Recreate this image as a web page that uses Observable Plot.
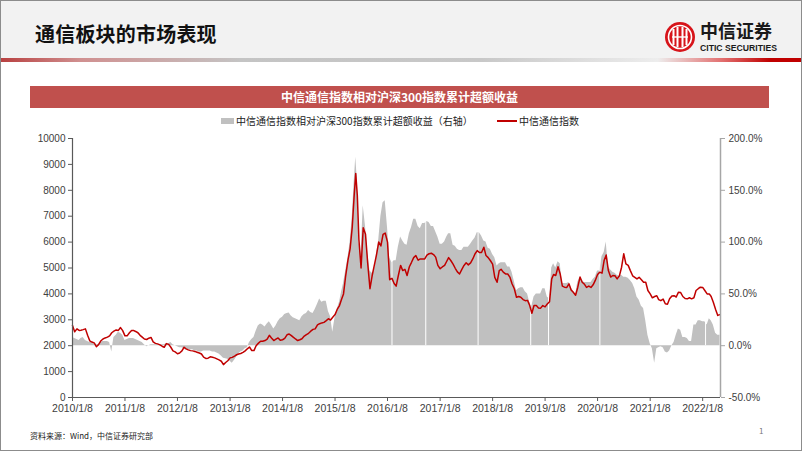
<!DOCTYPE html>
<html><head><meta charset="utf-8">
<script src="https://cdn.jsdelivr.net/npm/d3@7"></script>
<script src="https://cdn.jsdelivr.net/npm/@observablehq/plot@0.6"></script>
<style>
body{margin:0;background:#fff;}
#slide{position:relative;width:802px;height:451px;overflow:hidden;font-family:"Noto Sans CJK SC","Noto Sans",sans-serif;background:#fff;}
#border{position:absolute;left:0;top:0;width:802px;height:451px;box-sizing:border-box;border:1px solid #8c8c8c;pointer-events:none;z-index:5}
#header{position:absolute;left:0;top:0;width:802px;height:58px;background:#f2f2f2;}
#hline{position:absolute;left:0;top:58px;width:802px;height:4px;background:linear-gradient(to right,#b84040 0%,#d09090 10%,#c4c4c4 30%,#c8c8c8 60%,#ededed 82%,#e27070 90%,#c00000 96%,#c00000 100%);}
#title{position:absolute;left:35px;top:19px;font-size:20px;font-weight:bold;color:#111;line-height:30px;letter-spacing:0.2px}
#logo{position:absolute;left:662px;top:18px}
#banner{position:absolute;left:30px;top:86px;width:739px;height:22px;background:#c0504d;color:#fff;font-size:12px;font-weight:bold;text-align:center;line-height:22px}
.lg{position:absolute;top:113px;font-size:10px;color:#222;line-height:16px;white-space:nowrap}
#chart{position:absolute;left:0;top:0}
#foot{position:absolute;left:30px;top:430px;font-size:8px;color:#222}
#page{position:absolute;left:759px;top:425px;font-size:8px;color:#777}
</style></head>
<body>
<div id="slide">
  <div id="header"></div>
  <div id="hline"></div>
  <div id="title">通信板块的市场表现</div>
  <svg id="logo" width="120" height="40" viewBox="0 0 120 40">
    <circle cx="18" cy="19" r="15" fill="#d7141a"/>
    <circle cx="18" cy="19" r="11.5" fill="none" stroke="#fff" stroke-width="1.6"/>
    <rect x="10.5" y="11" width="2" height="16" fill="#fff"/>
    <rect x="14.5" y="9" width="2" height="20" fill="#fff"/>
    <rect x="19.5" y="9" width="2" height="20" fill="#fff"/>
    <rect x="23.5" y="11" width="2" height="16" fill="#fff"/>
    <path d="M10 19 H26" stroke="#fff" stroke-width="1.4"/>
    <text x="38" y="20" font-family="Noto Sans CJK SC" font-weight="bold" font-size="18" fill="#1a1a1a">中信证券</text>
    <text x="38" y="33" font-family="Liberation Sans Narrow, Liberation Sans, Arial" font-weight="bold" font-size="9" fill="#1a1a1a" textLength="77" lengthAdjust="spacingAndGlyphs">CITIC SECURITIES</text>
  </svg>
  <div id="banner">中信通信指数相对沪深300指数累计超额收益</div>
  <div class="lg" style="left:221px"><span style="display:inline-block;width:13px;height:6px;background:#c0c0c0;vertical-align:middle;margin-right:2px;position:relative;top:-1px"></span>中信通信指数相对沪深300指数累计超额收益（右轴）</div>
  <div class="lg" style="left:497px"><span style="display:inline-block;width:20px;height:2px;background:#c00000;vertical-align:middle;margin-right:2px;position:relative;top:-1px"></span>中信通信指数</div>
  <div id="chart"></div>
  <div id="foot">资料来源：Wind，中信证券研究部</div>
  <div id="page">1</div>
  <div id="border"></div>
</div>
<script>
// ---- data (roughly twice a month) ----
// 中信通信指数 (left axis), per year, sampled on the 8th and 23rd
const idx2010 = [2780,2540,2650,2590,2600,2620,2650,2400,2190,2140,2110,1960,2040,2180,2260,2300,2330,2380,2500,2560,2610,2590,2700,2580];
const idx2011 = [2380,2380,2500,2590,2590,2550,2500,2400,2330,2260,2240,2290,2320,2150,2090,2070,2030,1980,1940,2080,2050,1940,1800,1760];
const idx2012 = [1690,1720,1800,1940,1880,1840,1810,1800,1780,1750,1720,1680,1560,1510,1520,1570,1550,1530,1490,1450,1400,1270,1350,1420];
const idx2013 = [1530,1550,1600,1650,1680,1700,1740,1800,1880,1950,1810,1810,2000,2090,2170,2170,2200,2250,2400,2300,2200,2250,2300,2210];
const idx2014 = [2230,2280,2420,2450,2400,2330,2260,2200,2230,2270,2370,2430,2480,2560,2630,2650,2800,2850,2880,2900,2970,3040,2990,3100];
const idx2015 = [3200,3400,3550,3800,4000,4700,5300,5750,6600,7700,8650,7800,6100,5000,6550,6300,5200,4200,4700,5100,5500,6000,5850,6300,6350];
const idx2016 = [6000,4550,4600,4400,4300,4700,5100,4900,4950,4710,5050,5220,5400,5480,5300,5350,5350,5350,5500,5550,5570,5520,5420,5100];
const idx2017 = [4970,5040,5100,5260,5400,5290,5150,4990,4850,4770,4950,5100,5200,5120,5200,5350,5550,5670,5600,5600,5800,5480,5400,5290];
const idx2018 = [5150,4640,4450,4900,4950,4840,4770,4770,4650,4390,4200,3870,3900,3870,3780,3740,3750,3550,3250,3550,3550,3460,3450,3550];
const idx2019 = [3500,3610,3700,4580,4750,4710,5050,4770,4300,4260,4250,4390,4150,4060,3950,4250,4650,4450,4380,4250,4300,4250,4350,4520];
const idx2020 = [4750,4840,4800,5300,5500,4900,4650,4710,4700,4580,4700,5030,5550,5160,5100,4900,4700,4640,4580,4640,4550,4450,4450,4130];
const idx2021 = [4000,3850,3900,3930,3780,3740,3800,3620,3600,3810,3920,3930,3880,4060,4050,3900,3820,3810,3850,3810,3850,4130,4200,4260];
const idx2022 = [4250,4130,4000,4000,3900,3680,3400,3170,3200];

// 相对沪深300指数累计超额收益, % (right axis), same sampling
const ex2010 = [8,7,6,5,7,8,5,4,3,3,2,1,1,3,4,4,4,3,-6,8,10,13,12,10];
const ex2011 = [5,6,7,7,7,6,5,4,3,1,-1,0,1,1,1,1,1,1,1,2,2,3,1,0];
const ex2012 = [-1,-2,-2,-3,-4,-4,-4,-4,-5,-5,-6,-6,-5,-5,-5,-5,-6,-6,-7,-8,-10,-12,-12.5,-13];
const ex2013 = [-15,-17,-14,-11,-8,-6,-5,-3,-2,3,6,8,14,19,21,20,18,21,23,20,16,19,23,26];
const ex2014 = [27.5,30,31,31.5,29,27,26,25,24,28,30,31,34,32,31,35,40,45,42,43,43,33,28,13];
const ex2015 = [27,35,42,52,60,72,85,100,125,155,182,160,100,88,135,115,90,72,70,72,88,102,125,138,140];
const ex2016 = [114,85,80,82,82,95,105,101,98,97,108,114,122,122,115,113,118,118,120,119,115,115,110,105];
const ex2017 = [98,98,100,105,108,108,97,96,93,92,92,95,95,95,98,101,104,109,109,106,101,100,94,93];
const ex2018 = [88,85,77,79,80,80,80,76,76,71,62,53,55,56,56,52,50,42,38,47,50,50,50,55];
const ex2019 = [55,47,45,75,79,75,81,79,60,60,60,61,56,53,49,61,66,63,61,61,61,61,64,66];
const ex2020 = [72,72,86,90,100,76,73,71,70,68,67,68,66,66,65,63,60,55,47,44,38,36,24,10];
const ex2021 = [2,-3,-17,-3,-2,-1,-2,-6,-7,-5,0,3,10,16,15,8,8,7,4,4,20,20,24,24];
const ex2022 = [23,23,20,26,24,20,12,10,10];

// sampling dates: the 8th and 23rd of each month; 2015 has extra points round the June peak
const dates2015 = ["2015-01-08","2015-01-23","2015-02-08","2015-02-23","2015-03-08","2015-03-23","2015-04-08","2015-04-23","2015-05-08","2015-05-20",
  "2015-06-01","2015-06-12","2015-06-23","2015-07-08","2015-07-23","2015-08-08","2015-08-23","2015-09-08","2015-09-23","2015-10-08",
  "2015-10-23","2015-11-08","2015-11-23","2015-12-08","2015-12-23"];
// holiday weeks with no bar (thin white gaps in the grey columns)
const gapDates = ["2016-02-08","2016-09-30","2017-09-29","2018-09-30","2019-02-01","2020-01-24","2022-01-28"];

const xTickYears = [2010,2011,2012,2013,2014,2015,2016,2017,2018,2019,2020,2021,2022];
const leftTicks = [0,1000,2000,3000,4000,5000,6000,7000,8000,9000,10000];
const rightTicks = [-50,0,50,100,150,200];

// ---- build table ----
const semi = (y, n) => {
  const out = [];
  for (let m = 1; m <= 12 && out.length < n; m++) {
    const mm = String(m).padStart(2, "0");
    out.push(`${y}-${mm}-08`);
    if (out.length < n) out.push(`${y}-${mm}-23`);
  }
  return out;
};
const dates = [...semi(2010,24), ...semi(2011,24), ...semi(2012,24), ...semi(2013,24), ...semi(2014,24), ...dates2015,
  ...semi(2016,24), ...semi(2017,24), ...semi(2018,24), ...semi(2019,24), ...semi(2020,24), ...semi(2021,24), ...semi(2022,9)];
const indexValues = [].concat(idx2010, idx2011, idx2012, idx2013, idx2014, idx2015, idx2016, idx2017, idx2018, idx2019, idx2020, idx2021, idx2022);
const excessPct = [].concat(ex2010, ex2011, ex2012, ex2013, ex2014, ex2015, ex2016, ex2017, ex2018, ex2019, ex2020, ex2021, ex2022);

const toLeft = p => 2000 + 40 * p;   // right-axis % mapped onto left-axis units (0% = 2000, 200% = 10000)
const utc = s => new Date(s + "T00:00:00Z");
const data = dates.map((d, i) => ({date: utc(d), idx: indexValues[i], ex: toLeft(excessPct[i])}));
const xDomain = [utc("2010-01-08"), utc("2022-05-12")];
const xTicks = xTickYears.map(y => new Date(Date.UTC(y, 0, 8)));

const chart = Plot.plot({
  width: 802, height: 451,
  marginLeft: 72, marginRight: 82, marginTop: 138, marginBottom: 54,
  style: {fontFamily: "'Liberation Sans', Arial, sans-serif", fontSize: "10px", color: "#404040", background: "transparent", overflow: "visible"},
  x: {type: "utc", domain: xDomain},
  y: {domain: [0, 10000]},
  marks: [
    Plot.areaY(data, {x: "date", y1: 2000, y2: "ex", fill: "#c0c0c0"}),
    Plot.ruleX(gapDates.map(utc), {y1: toLeft(0), y2: toLeft(200), stroke: "#ffffff", strokeWidth: 1}),
    Plot.lineY(data, {x: "date", y: "idx", stroke: "#c00000", strokeWidth: 1.5}),
    Plot.ruleX([xDomain[0]], {stroke: "#595959", strokeWidth: 1.2}),
    Plot.ruleX([xDomain[1]], {stroke: "#a6a6a6", strokeWidth: 1.5}),
    Plot.ruleY([0], {stroke: "#595959", strokeWidth: 1.2}),
    Plot.axisY({ticks: leftTicks, anchor: "left", tickSize: 4, tickPadding: 3, tickFormat: d => String(d), label: null, stroke: "#595959"}),
    Plot.axisY({ticks: rightTicks.map(toLeft), anchor: "right", tickSize: 4, tickPadding: 4, tickFormat: v => ((v - 2000) / 40).toFixed(1) + "%", label: null, stroke: "#a6a6a6"}),
    Plot.axisX({ticks: xTicks, anchor: "bottom", tickSize: 4, tickPadding: 3, tickFormat: d => `${d.getUTCFullYear()}/1/8`, label: null, fontSize: 10.5, stroke: "#595959"})
  ]
});
document.getElementById("chart").appendChild(chart);
</script>
</body></html>
